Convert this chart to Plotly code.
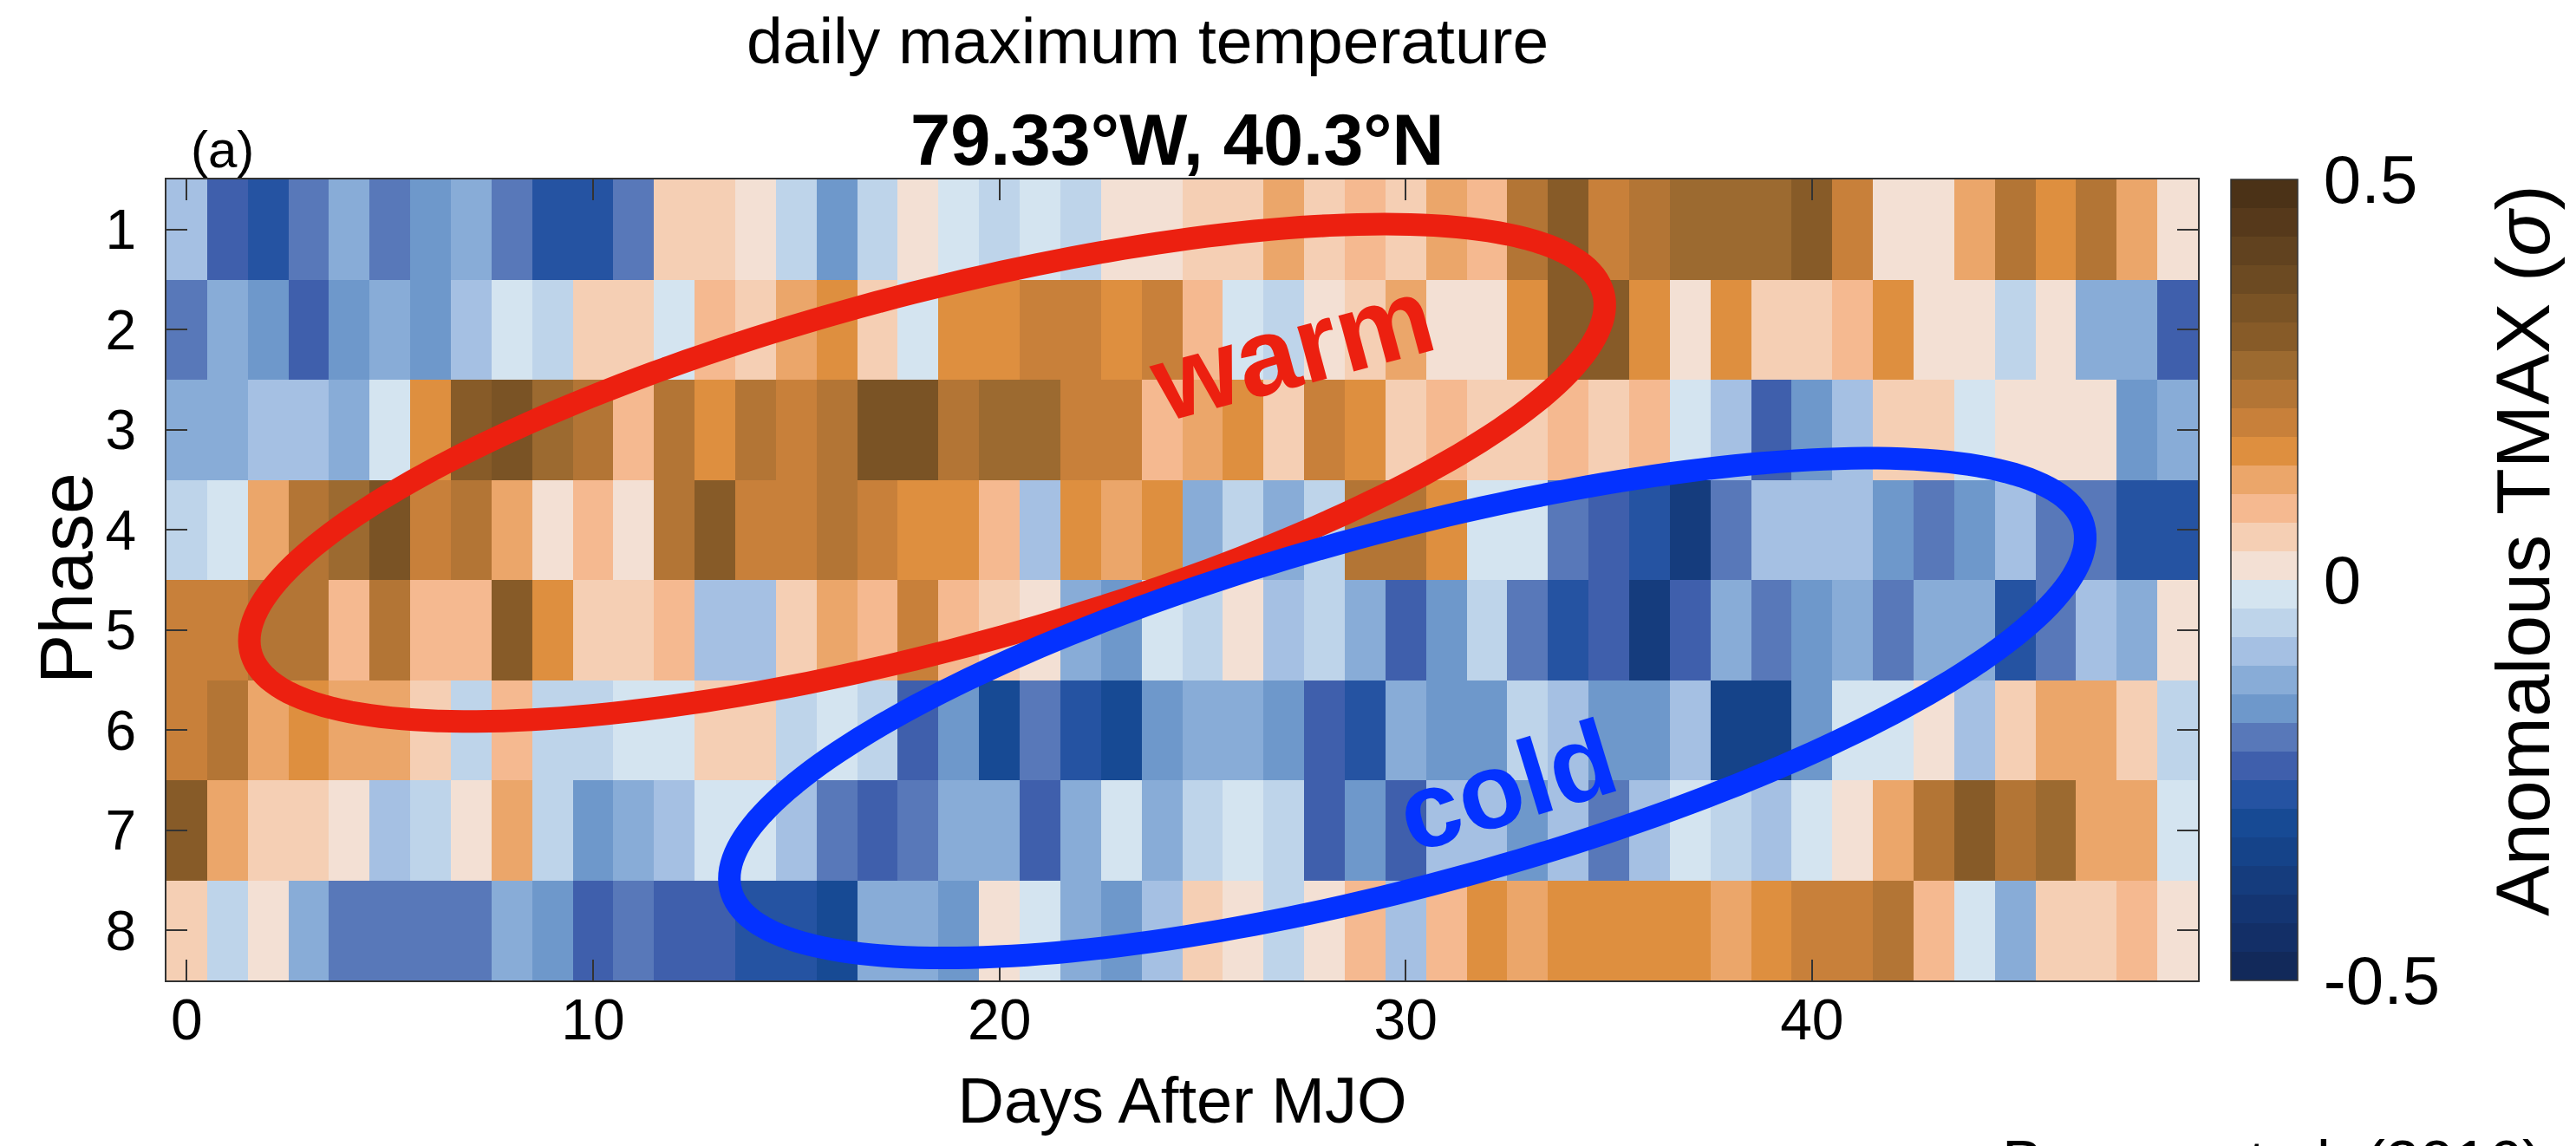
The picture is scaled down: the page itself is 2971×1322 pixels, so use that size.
import numpy as np
import plotly.graph_objects as go

# ---- data: anomalous daily maximum temperature (sigma) by MJO phase and lag ----
days = list(range(50))
phases = list(range(1, 9))

phase1 = [-0.09, -0.23, -0.27, -0.20, -0.12, -0.20, -0.16, -0.12, -0.20, -0.27,
          -0.27, -0.20, 0.05, 0.05, 0.02, -0.05, -0.16, -0.05, 0.02, -0.02,
          -0.05, -0.02, -0.05, 0.02, 0.02, 0.05, 0.05, 0.12, 0.05, 0.09,
          0.05, 0.12, 0.09, 0.23, 0.30, 0.20, 0.23, 0.27, 0.27, 0.27,
          0.30, 0.20, 0.02, 0.02, 0.12, 0.23, 0.16, 0.23, 0.12, 0.02]
phase2 = [-0.20, -0.12, -0.16, -0.23, -0.16, -0.12, -0.16, -0.09, -0.02, -0.05,
          0.05, 0.05, -0.02, 0.09, 0.05, 0.12, 0.16, 0.05, -0.02, 0.16,
          0.16, 0.20, 0.20, 0.16, 0.20, 0.09, -0.02, -0.05, 0.02, 0.05,
          0.12, 0.02, 0.02, 0.16, 0.30, 0.30, 0.16, 0.02, 0.16, 0.05,
          0.05, 0.09, 0.16, 0.02, 0.02, -0.05, 0.02, -0.12, -0.12, -0.23]
phase3 = [-0.12, -0.12, -0.09, -0.09, -0.12, -0.02, 0.16, 0.30, 0.34, 0.27,
          0.23, 0.09, 0.23, 0.16, 0.23, 0.20, 0.23, 0.34, 0.34, 0.23,
          0.27, 0.27, 0.20, 0.20, 0.09, 0.12, 0.16, 0.05, 0.20, 0.16,
          0.05, 0.09, 0.05, 0.05, 0.09, 0.05, 0.09, -0.02, -0.09, -0.23,
          -0.16, -0.09, 0.05, 0.05, -0.02, 0.02, 0.02, 0.02, -0.16, -0.12]
phase4 = [-0.05, -0.02, 0.12, 0.23, 0.27, 0.34, 0.20, 0.23, 0.12, 0.02,
          0.09, 0.02, 0.23, 0.30, 0.20, 0.20, 0.23, 0.20, 0.16, 0.16,
          0.09, -0.09, 0.16, 0.12, 0.16, -0.12, -0.05, -0.12, -0.05, 0.23,
          0.23, 0.16, -0.02, -0.02, -0.20, -0.23, -0.27, -0.38, -0.20, -0.09,
          -0.09, -0.09, -0.16, -0.20, -0.16, -0.09, -0.20, -0.20, -0.27, -0.27]
phase5 = [0.20, 0.20, 0.23, 0.23, 0.09, 0.23, 0.09, 0.09, 0.30, 0.16,
          0.05, 0.05, 0.09, -0.09, -0.09, 0.05, 0.12, 0.09, 0.20, 0.09,
          0.05, 0.02, -0.12, -0.16, -0.02, -0.05, 0.02, -0.09, -0.05, -0.12,
          -0.23, -0.16, -0.05, -0.20, -0.27, -0.23, -0.38, -0.23, -0.12, -0.20,
          -0.16, -0.12, -0.20, -0.12, -0.12, -0.27, -0.20, -0.09, -0.12, 0.02]
phase6 = [0.20, 0.23, 0.12, 0.16, 0.12, 0.12, 0.05, -0.05, 0.09, -0.05,
          -0.05, -0.02, -0.02, 0.05, 0.05, -0.05, -0.02, -0.05, -0.23, -0.16,
          -0.30, -0.20, -0.27, -0.30, -0.16, -0.12, -0.12, -0.16, -0.23, -0.27,
          -0.12, -0.16, -0.16, -0.05, -0.09, -0.16, -0.16, -0.09, -0.34, -0.34,
          -0.16, -0.02, -0.02, 0.02, -0.09, 0.05, 0.12, 0.12, 0.05, -0.05]
phase7 = [0.30, 0.12, 0.05, 0.05, 0.02, -0.09, -0.05, 0.02, 0.12, -0.05,
          -0.16, -0.12, -0.09, -0.02, -0.02, -0.09, -0.20, -0.23, -0.20, -0.12,
          -0.12, -0.23, -0.12, -0.02, -0.12, -0.05, -0.02, -0.05, -0.23, -0.16,
          -0.23, -0.09, -0.09, -0.16, -0.09, -0.20, -0.09, -0.02, -0.05, -0.09,
          -0.02, 0.02, 0.12, 0.23, 0.30, 0.23, 0.27, 0.12, 0.12, -0.02]
phase8 = [0.05, -0.05, 0.02, -0.12, -0.20, -0.20, -0.20, -0.20, -0.12, -0.16,
          -0.23, -0.20, -0.23, -0.23, -0.27, -0.27, -0.30, -0.12, -0.12, -0.16,
          0.02, -0.02, -0.12, -0.16, -0.09, 0.05, 0.02, -0.05, 0.02, 0.09,
          -0.09, 0.09, 0.16, 0.12, 0.16, 0.16, 0.16, 0.16, 0.12, 0.16,
          0.20, 0.20, 0.23, 0.09, -0.02, -0.12, 0.05, 0.05, 0.09, 0.02]
tmax_anom = [phase1, phase2, phase3, phase4, phase5, phase6, phase7, phase8]

x_ticks = [0, 10, 20, 30, 40]
cbar_ticks = [-0.5, 0, 0.5]
cbar_ticktext = ["-0.5", "0", "0.5"]

# ---- 28-step brown/blue diverging palette (from -0.5 up to +0.5) ----
level_colors = [
    "#12295a", "#132f67", "#143572", "#153c7d", "#154389", "#174a94", "#2553a2",
    "#3f5fac", "#5878b9", "#6e98cb", "#88acd7", "#a5c0e3", "#bed4ea", "#d4e4f0",
    "#f3e0d4", "#f5cfb4", "#f5b990", "#eba66a", "#de8f3f", "#c8803a", "#b37535",
    "#9c6a30", "#875b28", "#7a5325", "#6c4a22", "#61421f", "#56391b", "#4b3217",
]
n_lev = len(level_colors)
colorscale = []
for i, c in enumerate(level_colors):
    colorscale.append([i / n_lev, c])
    colorscale.append([(i + 1) / n_lev, c])

# ---- page geometry ----
W, H = 2971, 1322
M_L, M_R, M_T, M_B = 192, 436, 207, 191
plot_w = W - M_L - M_R
plot_h = H - M_T - M_B
px_per_day = plot_w / len(days)
px_per_phase = plot_h / len(phases)


def paper_x(px):
    return (px - M_L) / plot_w


def paper_y(py):
    return ((H - M_B) - py) / plot_h


FONT = "Liberation Sans, Arial, Helvetica, sans-serif"
AXIS_COLOR = "#333333"

fig = go.Figure()
fig.add_trace(go.Heatmap(
    x=days, y=phases, z=tmax_anom,
    zmin=-0.5, zmax=0.5,
    colorscale=colorscale,
    xgap=0, ygap=0,
    colorbar=dict(
        x=paper_x(2573), xanchor="left", xref="paper", xpad=0,
        y=0.5, yanchor="middle", len=1, lenmode="fraction",
        thickness=77, ypad=0,
        outlinewidth=1.5, outlinecolor=AXIS_COLOR,
        tickvals=cbar_ticks, ticktext=cbar_ticktext,
        ticks="outside", ticklen=14, tickcolor="rgba(0,0,0,0)",
        tickfont=dict(family=FONT, size=78, color="black"),
    ),
    hovertemplate="day %{x}, phase %{y}: %{z}<extra></extra>",
))


def ellipse_path(cx, cy, a_px, b_px, tilt_deg, n=240):
    """Closed SVG path of a tilted ellipse; axes given in screen pixels."""
    t = np.linspace(0, 2 * np.pi, n)
    th = np.radians(tilt_deg)
    dx = a_px * np.cos(t) * np.cos(th) - b_px * np.sin(t) * np.sin(th)
    dy = -(a_px * np.cos(t) * np.sin(th) + b_px * np.sin(t) * np.cos(th))
    xs = cx + dx / px_per_day
    ys = cy + dy / px_per_phase
    pts = [f"{x:.4f},{y:.4f}" for x, y in zip(xs, ys)]
    return "M " + " L ".join(pts) + " Z"


WARM_RED = "#ec2010"
COLD_BLUE = "#0432ff"

fig.add_shape(type="path", xref="x", yref="y",
              path=ellipse_path(18.22, 3.43, 807, 205, 14.9),
              line=dict(color=WARM_RED, width=26))
fig.add_shape(type="path", xref="x", yref="y",
              path=ellipse_path(30.04, 5.78, 808, 204, 15.1),
              line=dict(color=COLD_BLUE, width=26))

fig.add_annotation(x=27.2, y=2.19, xref="x", yref="y", text="<b>warm</b>",
                   showarrow=False, textangle=-15,
                   font=dict(family=FONT, size=126, color=WARM_RED))
fig.add_annotation(x=32.49, y=6.55, xref="x", yref="y", text="<b>cold</b>",
                   showarrow=False, textangle=-17,
                   font=dict(family=FONT, size=124, color=COLD_BLUE))

# titles, panel label, axis/colorbar labels and citation
fig.add_annotation(x=paper_x(1323), y=paper_y(47),
                   xref="paper", yref="paper", text="daily maximum temperature",
                   showarrow=False, xanchor="center", yanchor="middle",
                   font=dict(family=FONT, size=75, color="black"))
fig.add_annotation(x=paper_x(1357), y=paper_y(161),
                   xref="paper", yref="paper", text="<b>79.33°W, 40.3°N</b>",
                   showarrow=False, xanchor="center", yanchor="middle",
                   font=dict(family=FONT, size=83, color="black"))
fig.add_annotation(x=paper_x(256), y=paper_y(172),
                   xref="paper", yref="paper", text="(a)",
                   showarrow=False, xanchor="center", yanchor="middle",
                   font=dict(family=FONT, size=60, color="black"))
fig.add_annotation(x=paper_x(76), y=paper_y(667),
                   xref="paper", yref="paper", text="Phase",
                   showarrow=False, textangle=-90,
                   xanchor="center", yanchor="middle",
                   font=dict(family=FONT, size=86, color="black"))
fig.add_annotation(x=paper_x(2909), y=paper_y(635),
                   xref="paper", yref="paper", text="Anomalous TMAX (<i>σ</i>)",
                   showarrow=False, textangle=-90,
                   xanchor="center", yanchor="middle",
                   font=dict(family=FONT, size=88, color="black"))
fig.add_annotation(x=paper_x(2935), y=paper_y(1299),
                   xref="paper", yref="paper", text="Barnes et al. (2016)",
                   showarrow=False, xanchor="right", yanchor="top",
                   font=dict(family=FONT, size=71, color="black"))

fig.update_xaxes(
    range=[-0.5, len(days) - 0.5], tickvals=x_ticks,
    ticks="inside", ticklen=24, tickwidth=2, tickcolor=AXIS_COLOR,
    mirror="allticks", showline=True, linecolor=AXIS_COLOR, linewidth=2,
    showgrid=False, zeroline=False, ticklabelstandoff=-13,
    tickfont=dict(family=FONT, size=66, color="black"),
    title=dict(text="Days After MJO", standoff=31,
               font=dict(family=FONT, size=74, color="black")),
)
fig.update_yaxes(
    range=[len(phases) + 0.5, 0.5], tickvals=phases,
    ticks="inside", ticklen=24, tickwidth=2, tickcolor=AXIS_COLOR,
    mirror="allticks", showline=True, linecolor=AXIS_COLOR, linewidth=2,
    showgrid=False, zeroline=False, ticklabelstandoff=20,
    tickfont=dict(family=FONT, size=64, color="black"),
)

fig.update_layout(
    width=W, height=H,
    margin=dict(l=M_L, r=M_R, t=M_T, b=M_B, autoexpand=False),
    paper_bgcolor="white", plot_bgcolor="white",
    showlegend=False,
)

fig.write_html("out.html")
